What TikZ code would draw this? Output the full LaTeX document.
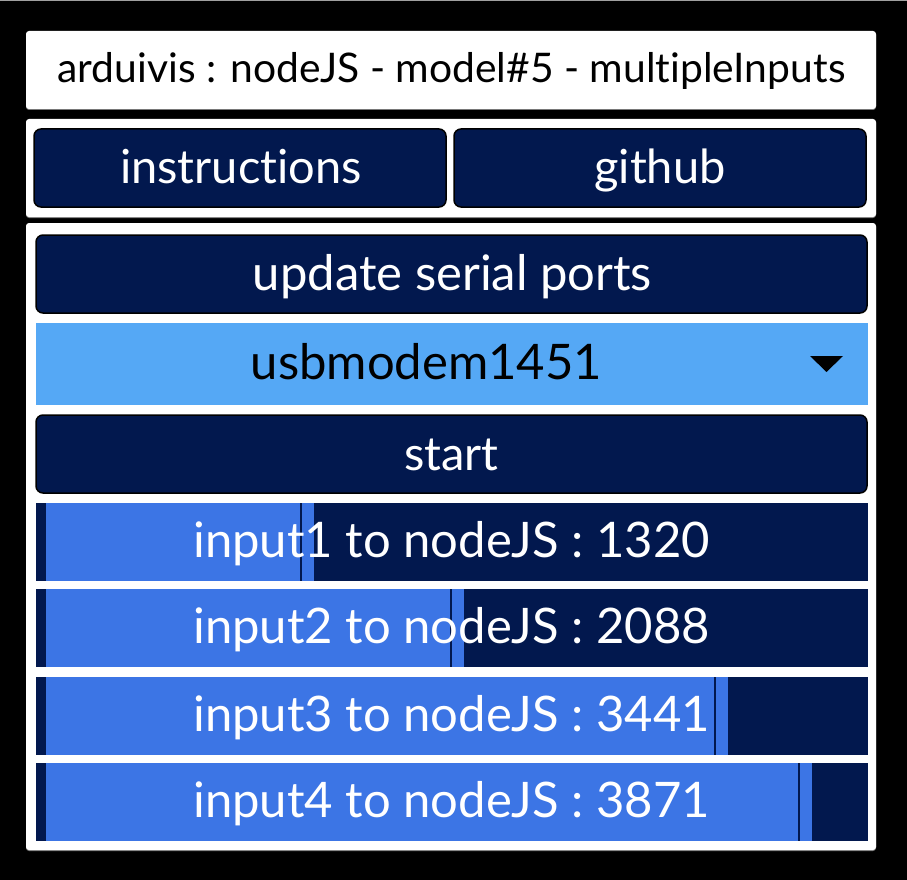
\documentclass[tikz,border=0pt]{standalone}
\usepackage{fontspec}
\setmainfont{Lato}[Ligatures=NoCommon]
\definecolor{navy}{RGB}{2,24,78}
\definecolor{barblue}{RGB}{60,117,229}
\definecolor{dropblue}{RGB}{85,168,245}
\definecolor{edgegray}{RGB}{120,120,120}
\tikzset{
  panel/.style={fill=white, rounded corners=3pt, inner sep=0pt, outer sep=0pt},
  shade/.style={fill=edgegray, rounded corners=3pt, inner sep=0pt, outer sep=0pt},
  btn/.style={fill=navy, draw=black, line width=1.5pt, rounded corners=7pt, inner sep=0pt, outer sep=0pt},
  bar/.style={fill=navy, inner sep=0pt, outer sep=0pt, minimum width=832pt, minimum height=78pt},
  lbl/.style={anchor=base, text=white, inner sep=0pt, font=\fontsize{47}{50}\selectfont},
  lblb/.style={anchor=base, text=white, inner sep=0pt, font=\fontsize{49}{52}\selectfont},
  ttl/.style={anchor=base, text=black, inner sep=0pt, font=\fontsize{40.8}{44}\selectfont},
}
\begin{document}
\begin{tikzpicture}[x=1pt,y=-1pt]
\useasboundingbox (0,0) rectangle (907,880);
\fill[black] (0,0) rectangle (907,880);
\fill[edgegray!70] (0,0) rectangle (907,1.2);
% panels
\node[shade, minimum width=850pt, minimum height=78pt] (ttlshade) at (451,71) {};
\node[panel, minimum width=850pt, minimum height=78pt] (ttlbox) at (451,70) {};
\node[shade, minimum width=850pt, minimum height=98pt] (p2shade) at (451,169) {};
\node[panel, minimum width=850pt, minimum height=98pt] (p2) at (451,168) {};
\node[shade, minimum width=850pt, minimum height=627pt] (p3shade) at (451,537.5) {};
\node[panel, minimum width=850pt, minimum height=627pt] (p3) at (451,536.5) {};
% title
\node[ttl] (title) at (451.5,83) {arduivis : nodeJS - model\#5 - multipleInputs};
% buttons
\node[btn, minimum width=412pt, minimum height=78pt] (instr) at (240,168) {};
\node[lbl] (instrl) at (241,183) {instructions};
\node[btn, minimum width=412pt, minimum height=78pt] (gh) at (660,168) {};
\node[lbl] (ghl) at (660,183) {github};
\node[btn, minimum width=831pt, minimum height=78pt] (upd) at (451.5,274) {};
\node[lblb] (updl) at (452.5,290) {update serial ports};
% dropdown
\node[fill=dropblue, inner sep=0pt, outer sep=0pt, minimum width=832pt, minimum height=82pt] (drop) at (452,364) {};
\node[lblb, text=black] (dropl) at (426.5,379) {usbmodem1451};
\fill[black] (810,356) -- (843,356) -- (826.5,372) -- cycle;
% start
\node[btn, minimum width=831pt, minimum height=78pt] (start) at (451.5,454) {};
\node[lbl] (startl) at (451.5,470) {start};
% input bars
\foreach \i/\top/\e/\v in {1/503/314/1320, 2/589/464/2088, 3/677/728/3441, 4/763/812/3871}{
  \node[bar] (bar\i) at (452,\top+39) {};
  \fill[barblue] (46,\top) rectangle (\e,\top+78);
  \fill[navy] (\e-13.8,\top) rectangle (\e-12.2,\top+78);
  \node[lblb] (barl\i) at (451.5,\top+54) {input\i\ to nodeJS : \v};
}
\end{tikzpicture}
\end{document}
